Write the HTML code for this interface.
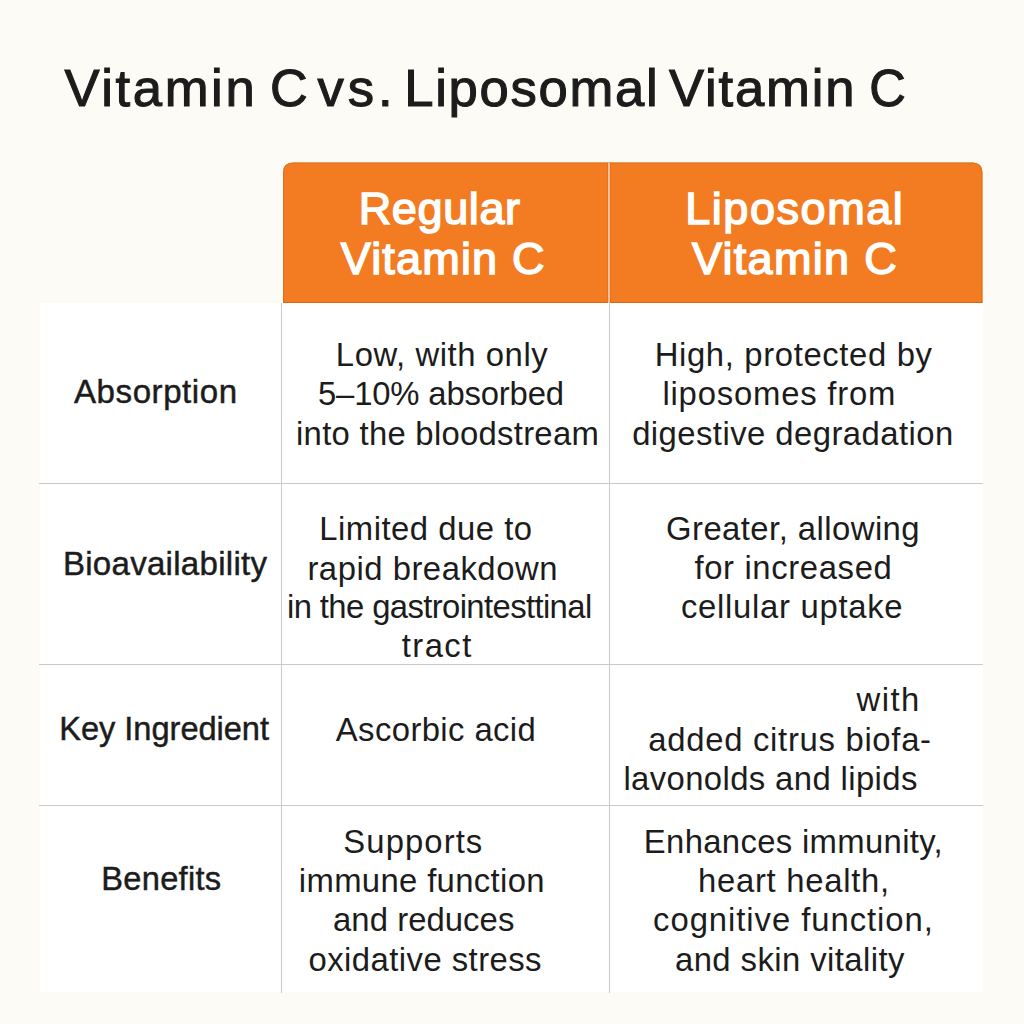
<!DOCTYPE html>
<html><head><meta charset="utf-8"><title>Vitamin C vs. Liposomal Vitamin C</title>
<style>
html,body{margin:0;padding:0;background:#fcfbf6;width:1024px;height:1024px;overflow:hidden;}
svg{display:block;font-family:"Liberation Sans", sans-serif;}
</style></head><body>
<svg width="1024" height="1024" viewBox="0 0 1024 1024">
<rect width="1024" height="1024" fill="#fcfbf6"/>

<rect x="40" y="303" width="943" height="689" fill="#ffffff"/>
<path d="M283 303 V172.5 Q283 162.5 293 162.5 H972.5 Q982.5 162.5 982.5 172.5 V303 Z" fill="#f37c22"/>
<path d="M283.6 303 V172.5 Q283.6 163.1 293 163.1 H972.5 Q981.9 163.1 981.9 172.5 V303" fill="none" stroke="#de6d1c" stroke-width="0.9"/>
<rect x="283" y="302" width="699.5" height="1" fill="#d5661a"/>
<rect x="607.4" y="163" width="3.2" height="140" fill="#dc6c1a"/>
<rect x="608.3" y="163" width="1.4" height="140" fill="#fde3cd"/>
<rect x="39" y="483" width="944" height="1" fill="#c9c9c9"/>
<rect x="39" y="664" width="944" height="1" fill="#c9c9c9"/>
<rect x="39" y="805" width="944" height="1" fill="#c9c9c9"/>
<rect x="281" y="303" width="1" height="690" fill="#c9c9c9"/>
<rect x="609" y="303" width="1" height="690" fill="#c9c9c9"/>

<text x="64.40" y="106.25" font-size="52.62" font-weight="normal" fill="#1c1c1c" stroke="#1c1c1c" stroke-width="1.1" textLength="190.30" lengthAdjust="spacing">Vitamin</text>
<text x="270.05" y="106.25" font-size="52.62" font-weight="normal" fill="#1c1c1c" stroke="#1c1c1c" stroke-width="1.1" textLength="37.75" lengthAdjust="spacingAndGlyphs">C</text>
<text x="317.60" y="106.25" font-size="52.62" font-weight="normal" fill="#1c1c1c" stroke="#1c1c1c" stroke-width="1.1" textLength="74.90" lengthAdjust="spacing">vs.</text>
<text x="404.20" y="106.25" font-size="52.62" font-weight="normal" fill="#1c1c1c" stroke="#1c1c1c" stroke-width="1.1" textLength="253.50" lengthAdjust="spacing">Liposomal</text>
<text x="668.95" y="106.25" font-size="52.62" font-weight="normal" fill="#1c1c1c" stroke="#1c1c1c" stroke-width="1.1" textLength="185.55" lengthAdjust="spacing">Vitamin</text>
<text x="869.20" y="106.25" font-size="52.62" font-weight="normal" fill="#1c1c1c" stroke="#1c1c1c" stroke-width="1.1" textLength="36.60" lengthAdjust="spacingAndGlyphs">C</text>
<text x="358.70" y="223.85" font-size="45.06" font-weight="normal" fill="#ffffff" stroke="#ffffff" stroke-width="1.5" textLength="161.38" lengthAdjust="spacing">Regular</text>
<text x="340.76" y="273.65" font-size="45.06" font-weight="normal" fill="#ffffff" stroke="#ffffff" stroke-width="1.5" textLength="203.76" lengthAdjust="spacing">Vitamin C</text>
<text x="685.15" y="223.85" font-size="45.06" font-weight="normal" fill="#ffffff" stroke="#ffffff" stroke-width="1.5" textLength="217.66" lengthAdjust="spacing">Liposomal</text>
<text x="692.02" y="273.65" font-size="45.06" font-weight="normal" fill="#ffffff" stroke="#ffffff" stroke-width="1.5" textLength="204.68" lengthAdjust="spacing">Vitamin C</text>
<text x="74.00" y="403.47" font-size="33.07" font-weight="normal" fill="#1c1c1c" stroke="#1c1c1c" stroke-width="0.45" textLength="163.05" lengthAdjust="spacing">Absorption</text>
<text x="62.90" y="575.27" font-size="33.07" font-weight="normal" fill="#1c1c1c" stroke="#1c1c1c" stroke-width="0.45" textLength="204.10" lengthAdjust="spacing">Bioavailability</text>
<text x="59.25" y="739.67" font-size="32.63" font-weight="normal" fill="#1c1c1c" stroke="#1c1c1c" stroke-width="0.45" textLength="209.80" lengthAdjust="spacing">Key Ingredient</text>
<text x="101.25" y="889.67" font-size="32.63" font-weight="normal" fill="#1c1c1c" stroke="#1c1c1c" stroke-width="0.45" textLength="119.90" lengthAdjust="spacing">Benefits</text>
<text x="335.85" y="365.90" font-size="32.85" font-weight="normal" fill="#1c1c1c" textLength="211.90" lengthAdjust="spacing">Low, with only</text>
<text x="318.00" y="405.20" font-size="32.85" font-weight="normal" fill="#1c1c1c" textLength="246.00" lengthAdjust="spacing">5–10% absorbed</text>
<text x="296.05" y="444.60" font-size="32.85" font-weight="normal" fill="#1c1c1c" textLength="302.75" lengthAdjust="spacing">into the bloodstream</text>
<text x="654.70" y="366.10" font-size="32.85" font-weight="normal" fill="#1c1c1c" textLength="277.25" lengthAdjust="spacing">High, protected by</text>
<text x="662.40" y="405.10" font-size="32.85" font-weight="normal" fill="#1c1c1c" textLength="233.00" lengthAdjust="spacing">liposomes from</text>
<text x="632.15" y="444.60" font-size="32.85" font-weight="normal" fill="#1c1c1c" textLength="321.05" lengthAdjust="spacing">digestive degradation</text>
<text x="319.25" y="540.20" font-size="32.85" font-weight="normal" fill="#1c1c1c" textLength="212.80" lengthAdjust="spacing">Limited due to</text>
<text x="307.40" y="579.70" font-size="32.85" font-weight="normal" fill="#1c1c1c" textLength="250.00" lengthAdjust="spacing">rapid breakdown</text>
<text x="287.05" y="618.30" font-size="32.85" font-weight="normal" fill="#1c1c1c" textLength="305.15" lengthAdjust="spacing">in the gastrointesttinal</text>
<text x="401.64" y="657.00" font-size="32.85" font-weight="normal" fill="#1c1c1c" textLength="69.74" lengthAdjust="spacing">tract</text>
<text x="666.00" y="539.70" font-size="32.85" font-weight="normal" fill="#1c1c1c" textLength="253.60" lengthAdjust="spacing">Greater, allowing</text>
<text x="694.45" y="579.20" font-size="32.85" font-weight="normal" fill="#1c1c1c" textLength="197.35" lengthAdjust="spacing">for increased</text>
<text x="680.95" y="618.30" font-size="32.85" font-weight="normal" fill="#1c1c1c" textLength="221.65" lengthAdjust="spacing">cellular uptake</text>
<text x="335.80" y="740.90" font-size="32.85" font-weight="normal" fill="#1c1c1c" textLength="200.00" lengthAdjust="spacing">Ascorbic acid</text>
<text x="856.55" y="710.90" font-size="32.85" font-weight="normal" fill="#1c1c1c" textLength="62.76" lengthAdjust="spacing">with</text>
<text x="648.35" y="750.60" font-size="32.85" font-weight="normal" fill="#1c1c1c" textLength="282.70" lengthAdjust="spacing">added citrus biofa-</text>
<text x="623.40" y="789.80" font-size="32.85" font-weight="normal" fill="#1c1c1c" textLength="293.90" lengthAdjust="spacing">lavonolds and lipids</text>
<text x="343.35" y="853.00" font-size="32.85" font-weight="normal" fill="#1c1c1c" textLength="138.90" lengthAdjust="spacing">Supports</text>
<text x="298.80" y="891.70" font-size="32.85" font-weight="normal" fill="#1c1c1c" textLength="245.75" lengthAdjust="spacing">immune function</text>
<text x="333.00" y="931.10" font-size="32.85" font-weight="normal" fill="#1c1c1c" textLength="181.30" lengthAdjust="spacing">and reduces</text>
<text x="308.55" y="970.60" font-size="32.85" font-weight="normal" fill="#1c1c1c" textLength="232.95" lengthAdjust="spacing">oxidative stress</text>
<text x="643.85" y="853.00" font-size="32.85" font-weight="normal" fill="#1c1c1c" textLength="298.80" lengthAdjust="spacing">Enhances immunity,</text>
<text x="698.05" y="891.70" font-size="32.85" font-weight="normal" fill="#1c1c1c" textLength="191.05" lengthAdjust="spacing">heart health,</text>
<text x="653.10" y="931.10" font-size="32.85" font-weight="normal" fill="#1c1c1c" textLength="279.75" lengthAdjust="spacing">cognitive function,</text>
<text x="675.00" y="970.60" font-size="32.85" font-weight="normal" fill="#1c1c1c" textLength="229.40" lengthAdjust="spacing">and skin vitality</text>
</svg>
</body></html>
